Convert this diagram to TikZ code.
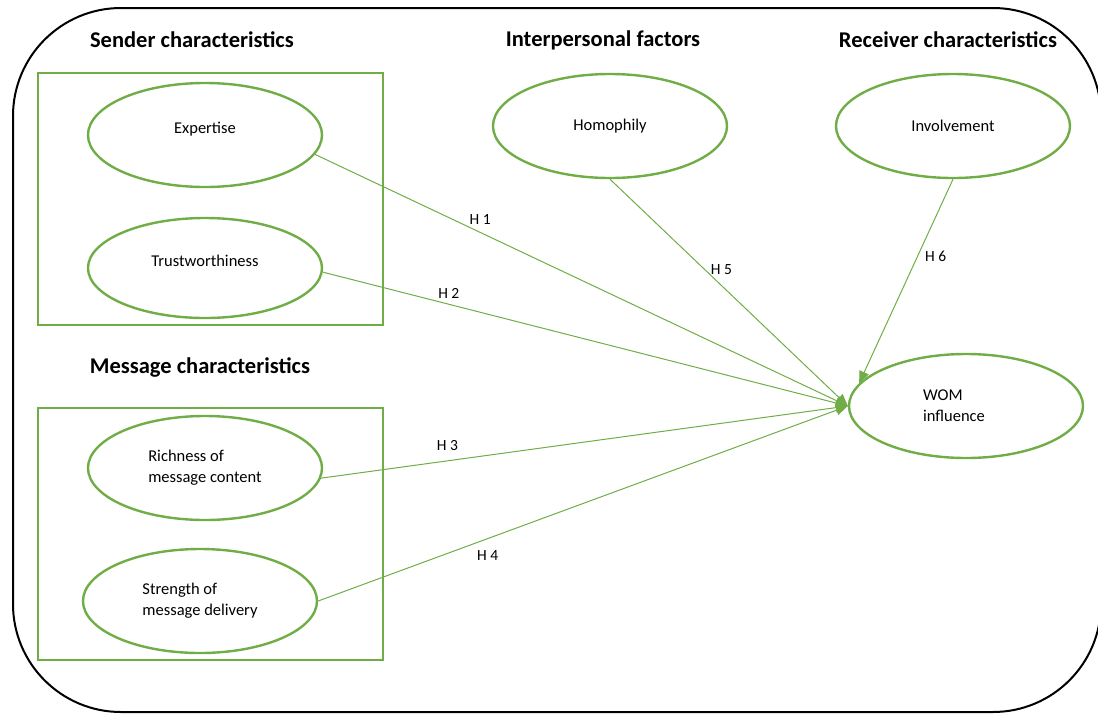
\documentclass[tikz,border=0pt]{standalone}
\usepackage{fontspec}
\setmainfont{Carlito}
\usetikzlibrary{arrows.meta,shapes.geometric}
\definecolor{leafgreen}{RGB}{112,173,71}

\begin{document}
\begin{tikzpicture}[x=1pt, y=-1pt,
		factor/.style={draw=leafgreen, line width=2.4pt, ellipse, minimum width=234pt, minimum height=104pt, inner sep=0pt, align=left, font=\fontsize{16.5}{21}\selectfont},
		heading/.style={font=\fontsize{22.5}{26}\selectfont\bfseries},
		groupbox/.style={draw=leafgreen, line width=2.4pt},
		hypo/.style={draw=leafgreen, line width=1pt, -{Triangle[length=12pt, width=10pt]}},
		hlabel/.style={font=\fontsize{15.5}{18}\selectfont}]
		%%%%% START %%%%%
		
		\useasboundingbox (0, 0) rectangle (1098, 713);
		\draw[line width=2pt, rounded corners=108pt] (13, 8) rectangle (1101, 712);
		
		\node[heading] (senderhead) at (192, 40) {Sender characteristics};
		\node[heading] (messagehead) at (200, 367) {Message characteristics};
		\node[heading] (interhead) at (603, 40) {Interpersonal factors};
		\node[heading] (receiverhead) at (948, 40) {Receiver characteristics};
		
		\draw[groupbox] (38, 73) rectangle (383, 325);
		\draw[groupbox] (38, 408) rectangle (383, 660);
		
		\node[factor] (expertise) at (205, 135) {Expertise\\[-6pt]};
		\node[factor, minimum height=100pt] (trust) at (205, 268) {Trustworthiness\\[-6pt]};
		\node[factor] (richness) at (205, 468) {Richness of\\message content};
		\node[factor] (strength) at (200, 601) {Strength of\\message delivery};
		\node[factor] (homophily) at (610, 126) {Homophily};
		\node[factor] (involvement) at (953, 126) {Involvement};
		\node[factor] (wom) at (966, 406) {WOM\\influence\hspace*{24pt}};
		
		\draw[hypo] (expertise.-10) -- node[hlabel, pos=0.31, above=4pt] (h1) {H 1} (wom.west);
		\draw[hypo] (trust.-2) -- node[hlabel, pos=0.24, above=2pt] (h2) {H 2} (wom.west);
		\draw[hypo] (richness.-5) -- node[hlabel, pos=0.24, above=6pt] (h3) {H 3} (wom.west);
		\draw[hypo] (strength.east) -- node[hlabel, pos=0.32, below=8pt] (h4) {H 4} (wom.west);
		\draw[hypo] (homophily.-90) -- node[hlabel, pos=0.4, right=2pt] (h5) {H 5} (wom.west);
		\draw[hypo] (involvement.-90) -- node[hlabel, pos=0.38, right=4pt] (h6) {H 6} (wom.168);
		
		%%%%% END %%%%%
	\end{tikzpicture}
\end{document}
